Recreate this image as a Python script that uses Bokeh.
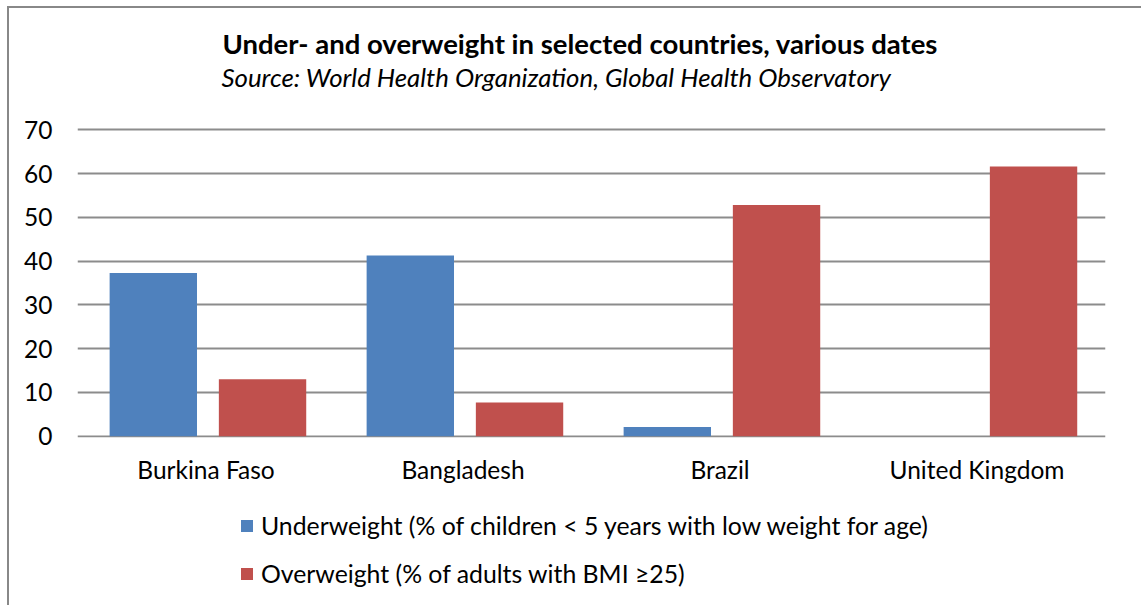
from bokeh.plotting import figure
from bokeh.layouts import column
from bokeh.models import FactorRange, Range1d, Title, Legend, LegendItem, ColumnDataSource, FixedTicker
from bokeh.transform import dodge
from bokeh.embed import file_html
from bokeh.resources import INLINE

countries = ["Burkina Faso", "Bangladesh", "Brazil", "United Kingdom"]
underweight = [37.3, 41.3, 2.1, 0.0]
overweight = [13.0, 7.7, 52.8, 61.6]
y_ticks = [0, 10, 20, 30, 40, 50, 60, 70]
series_names = ["Underweight (% of children < 5 years with low weight for age)",
                "Overweight (% of adults with BMI \u226525)"]
title_text = "Under- and overweight in selected countries, various dates"
subtitle_text = "Source: World Health Organization, Global Health Observatory"

FONT = "Lato"
BLUE = "#4F81BD"
RED = "#C0504D"
GRID = "#8C8C8C"

src = ColumnDataSource(dict(country=countries, under=underweight, over=overweight))

# ---- main chart ----
p = figure(x_range=FactorRange(*countries), y_range=Range1d(-0.3, 78.75),
           frame_width=1028, frame_height=346,
           min_border_left=68, min_border_right=36, min_border_top=83, min_border_bottom=60,
           output_backend="svg", toolbar_location=None)
p.title.visible = False
p.outline_line_color = None
p.background_fill_color = "white"
p.border_fill_color = "white"

r1 = p.vbar(x=dodge("country", -0.205, range=p.x_range), top="under", width=0.34,
            source=src, fill_color=BLUE, line_color=None)
r2 = p.vbar(x=dodge("country", 0.22, range=p.x_range), top="over", width=0.34,
            source=src, fill_color=RED, line_color=None)

# titles (first added sits closest to the frame)
p.add_layout(Title(text=subtitle_text, align="left", offset=144, text_font=FONT,
                   text_font_size="25.8px", text_font_style="italic", text_color="black",
                   standoff=0), "above")
p.add_layout(Title(text=title_text, align="left", offset=145, text_font=FONT,
                   text_font_size="27.5px", text_font_style="bold", text_color="black",
                   standoff=0), "above")

p.ygrid.ticker = FixedTicker(ticks=y_ticks)
p.ygrid.grid_line_color = GRID
p.ygrid.grid_line_width = 2
p.xgrid.grid_line_color = None

p.yaxis.ticker = FixedTicker(ticks=y_ticks)
p.yaxis.axis_line_color = None
p.yaxis.major_tick_line_color = None
p.yaxis.minor_tick_line_color = None
p.yaxis.major_tick_in = 0
p.yaxis.major_tick_out = 0
p.yaxis.major_label_standoff = 25
p.yaxis.major_label_text_font = FONT
p.yaxis.major_label_text_font_size = "24.5px"
p.yaxis.major_label_text_color = "black"

p.xaxis.axis_line_color = None
p.xaxis.major_tick_line_color = None
p.xaxis.major_tick_in = 0
p.xaxis.major_tick_out = 0
p.xaxis.major_label_standoff = 17
p.xaxis.major_label_text_font = FONT
p.xaxis.major_label_text_font_size = "24.5px"
p.xaxis.major_label_text_color = "black"

# ---- legend strip (same series, bars lie outside its view) ----
q = figure(x_range=FactorRange(*countries), y_range=Range1d(200, 201),
           width=1132, height=108, min_border=0,
           x_axis_location=None, y_axis_location=None,
           output_backend="svg", toolbar_location=None)
q.title.visible = False
q.outline_line_color = None
q.xgrid.grid_line_color = None
q.ygrid.grid_line_color = None
q.background_fill_color = "white"
q.border_fill_color = "white"
l1 = q.vbar(x=dodge("country", -0.205, range=q.x_range), top="under", width=0.34,
            source=src, fill_color=BLUE, line_color=None)
l2 = q.vbar(x=dodge("country", 0.22, range=q.x_range), top="over", width=0.34,
            source=src, fill_color=RED, line_color=None)
legend = Legend(items=[LegendItem(label=series_names[0], renderers=[l1]),
                       LegendItem(label=series_names[1], renderers=[l2])],
                location=(162, 17), orientation="vertical",
                glyph_width=15, glyph_height=15, label_standoff=7, spacing=19,
                padding=0, margin=0, border_line_color=None, background_fill_alpha=0,
                label_text_font=FONT, label_text_font_size="24.8px", label_text_color="black")
q.add_layout(legend, "center")

layout = column(p, q, spacing=0)
layout.styles = {"border-left": "2px solid #888888", "border-top": "2px solid #888888",
                 "margin-left": "7px", "margin-top": "6px", "background": "white"}

open("out.html", "w").write(file_html(layout, INLINE))
